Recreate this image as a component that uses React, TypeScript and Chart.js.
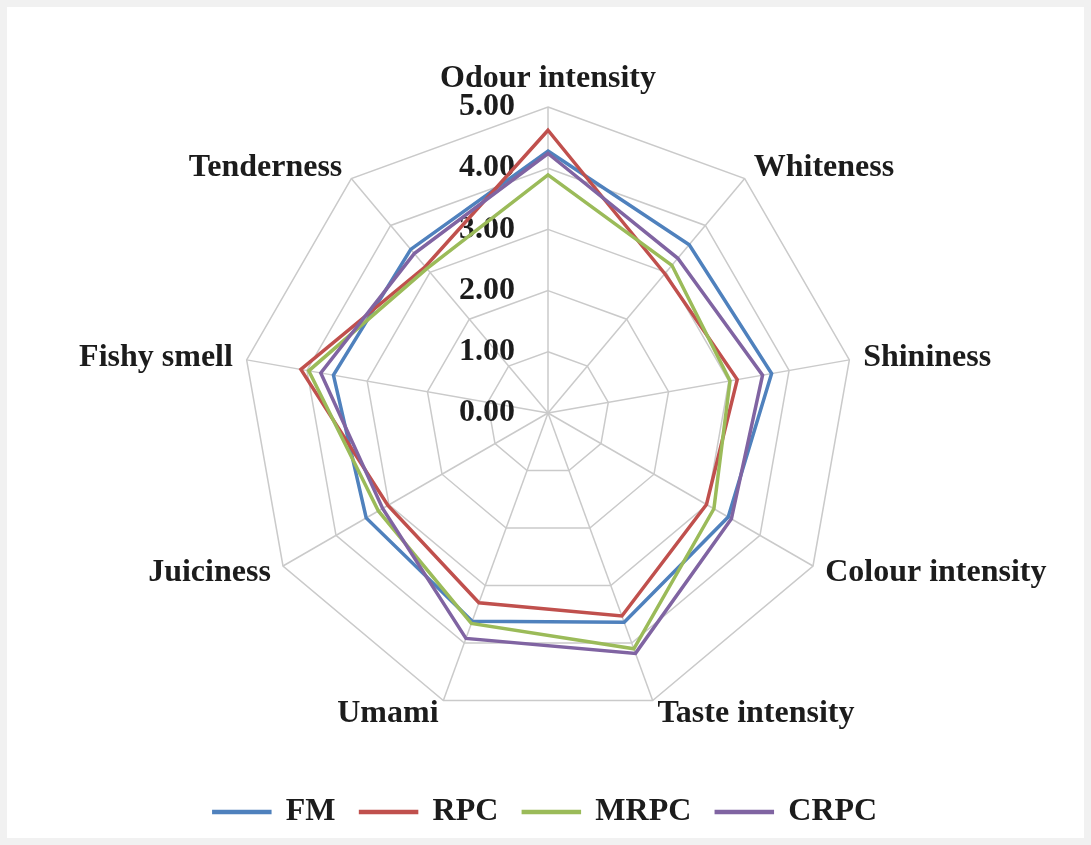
import React, { useEffect, useRef } from "react";
import { Chart, registerables } from "chart.js";

Chart.register(...registerables);

const CATEGORIES = [
  "Odour intensity",
  "Whiteness",
  "Shininess",
  "Colour intensity",
  "Taste intensity",
  "Umami",
  "Juiciness",
  "Fishy smell",
  "Tenderness",
];

const FM = [4.28, 3.59, 3.71, 3.4, 3.64, 3.62, 3.43, 3.56, 3.49];
const RPC = [4.62, 2.97, 3.14, 2.99, 3.53, 3.3, 3.02, 4.1, 3.12];
const MRPC = [3.89, 3.15, 3.02, 3.13, 4.1, 3.66, 3.2, 3.97, 3.08];
const CRPC = [4.24, 3.3, 3.56, 3.46, 4.18, 3.92, 3.12, 3.77, 3.4];

const SERIES_NAMES = ["FM", "RPC", "MRPC", "CRPC"];
const TICK_LABELS = ["0.00", "1.00", "2.00", "3.00", "4.00", "5.00"];

const COLORS = ["#4f81bd", "#c0504d", "#9bbb59", "#8064a2"];
const TEXT = "#1c1c1c";
const GRID = "#cacaca";
const FONT_FAMILY = '"Liberation Serif", "Times New Roman", serif';
const FONT_SIZE = 32;

const W = 1077;
const H = 831;
const CX = 541;
const CY = 406;
const RADIUS = 306;

const labelPlugin = {
  id: "customRadarLabels",
  beforeDatasetsDraw(chart: any) {
    const scale = chart.scales.r;
    const ctx = chart.ctx;
    ctx.save();
    ctx.font = `bold ${FONT_SIZE}px ${FONT_FAMILY}`;
    ctx.fillStyle = TEXT;
    ctx.textAlign = "right";
    ctx.textBaseline = "middle";
    scale.ticks.forEach((t: any, idx: number) => {
      const d = scale.getDistanceFromCenterForValue(t.value);
      ctx.fillText(TICK_LABELS[idx] ?? String(t.value), scale.xCenter - 33, scale.yCenter - d);
    });
    ctx.restore();
  },
  afterDraw(chart: any) {
    const scale = chart.scales.r;
    const ctx = chart.ctx;
    ctx.save();
    ctx.font = `bold ${FONT_SIZE}px ${FONT_FAMILY}`;
    ctx.fillStyle = TEXT;
    const n = CATEGORIES.length;
    CATEGORIES.forEach((label, i) => {
      const angle = Math.round((i * 360) / n);
      const pos = scale.getPointPosition(i, scale.drawingArea + (angle === 0 ? 12 : 14));
      if (angle === 0) {
        ctx.textAlign = "center";
        ctx.textBaseline = "bottom";
      } else {
        ctx.textAlign = angle < 180 ? "left" : "right";
        ctx.textBaseline = "middle";
      }
      ctx.fillText(label, pos.x, pos.y);
    });
    ctx.restore();
  },
};

export default function App() {
  const ref = useRef<HTMLCanvasElement | null>(null);

  useEffect(() => {
    if (!ref.current) return;
    const seriesValues = [FM, RPC, MRPC, CRPC];
    const chart = new Chart(ref.current, {
      type: "radar",
      data: {
        labels: CATEGORIES,
        datasets: seriesValues.map((vals, i) => ({
          label: SERIES_NAMES[i],
          data: vals,
          borderColor: COLORS[i],
          backgroundColor: COLORS[i],
          borderWidth: 3.5,
          fill: false,
          pointRadius: 0,
          pointHoverRadius: 0,
          tension: 0,
          order: seriesValues.length - i,
        })),
      },
      options: {
        responsive: false,
        animation: false,
        events: [],
        layout: { padding: 0 },
        scales: {
          r: {
            min: 0,
            max: 5,
            ticks: { stepSize: 1, display: false },
            pointLabels: { display: false },
            grid: { color: GRID, lineWidth: 1.5 },
            angleLines: { color: GRID, lineWidth: 1.5 },
            afterFit: (s: any) => {
              s.xCenter = CX;
              s.yCenter = CY;
              s.drawingArea = RADIUS;
            },
          },
        },
        plugins: {
          legend: {
            position: "bottom",
            labels: {
              boxWidth: 56,
              boxHeight: 1,
              padding: 25,
              color: TEXT,
              font: { family: FONT_FAMILY, size: FONT_SIZE, weight: "bold" },
              sort: (a: any, b: any) => a.datasetIndex - b.datasetIndex,
            },
          },
          tooltip: { enabled: false },
        },
      },
      plugins: [labelPlugin],
    } as any);
    return () => chart.destroy();
  }, []);

  return (
    <div style={{ position: "fixed", inset: 0, background: "#f1f1f1" }}>
      <div
        style={{
          position: "absolute",
          left: 7,
          top: 7,
          width: W,
          height: H,
          background: "#ffffff",
        }}
      >
        <canvas ref={ref} width={W} height={H} style={{ display: "block", width: W, height: H }} />
      </div>
    </div>
  );
}
